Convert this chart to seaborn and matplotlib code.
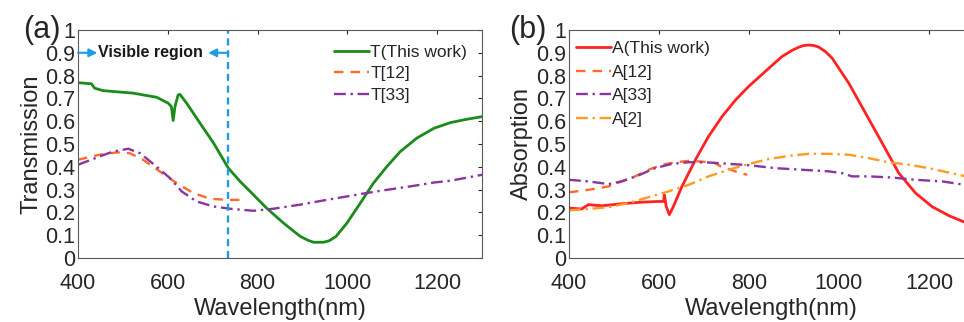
import matplotlib
matplotlib.use('Agg')
import matplotlib.pyplot as plt
import numpy as np
import pandas as pd
import seaborn as sns

# ---- data ----
# (a) Transmission
t_this_x = [400, 430, 437, 456, 523, 575, 601, 608, 612, 616, 623, 627, 642, 672, 702, 735,
            761, 791, 820, 858, 895, 912, 925, 947, 960, 975, 999, 1029, 1058, 1088, 1118, 1155,
            1193, 1230, 1265, 1300]
t_this_y = [0.769, 0.764, 0.745, 0.734, 0.723, 0.705, 0.679, 0.664, 0.603, 0.664, 0.715, 0.718, 0.679,
            0.591, 0.504, 0.394, 0.336, 0.277, 0.219, 0.153, 0.095, 0.078, 0.069, 0.069, 0.076, 0.095,
            0.153, 0.241, 0.328, 0.401, 0.467, 0.526, 0.569, 0.594, 0.608, 0.620]

t12_x = [400, 448, 486, 515, 545, 582, 620, 657, 694, 732, 761]
t12_y = [0.431, 0.453, 0.463, 0.460, 0.431, 0.380, 0.328, 0.285, 0.260, 0.255, 0.255]

t33_x = [400, 448, 478, 512, 538, 575, 605, 631, 664, 702, 739, 791, 835, 895, 954, 999,
         1043, 1088, 1140, 1193, 1230, 1300]
t33_y = [0.409, 0.445, 0.467, 0.479, 0.460, 0.401, 0.350, 0.292, 0.248, 0.226, 0.216, 0.207,
         0.216, 0.234, 0.255, 0.270, 0.285, 0.299, 0.314, 0.331, 0.339, 0.365]

# (b) Absorption
a_this_x = [400, 428, 443, 473, 517, 562, 599, 610, 612, 616, 623, 632, 651, 681, 710, 740, 770,
            799, 836, 873, 895, 911, 922, 933, 944, 955, 970, 985, 1022, 1059, 1096, 1133, 1170,
            1207, 1245, 1300]
a_this_y = [0.219, 0.215, 0.234, 0.229, 0.238, 0.245, 0.248, 0.248, 0.277, 0.226, 0.190, 0.226,
            0.314, 0.431, 0.533, 0.620, 0.693, 0.752, 0.818, 0.883, 0.910, 0.925, 0.932, 0.934,
            0.932, 0.925, 0.905, 0.876, 0.766, 0.635, 0.504, 0.372, 0.285, 0.225, 0.185, 0.140]

a12_x = [400, 443, 488, 517, 547, 577, 607, 636, 666, 695, 725, 740, 755, 781, 796]
a12_y = [0.288, 0.299, 0.314, 0.336, 0.358, 0.387, 0.409, 0.420, 0.426, 0.423, 0.416, 0.398,
         0.390, 0.372, 0.365]

a33_x = [400, 443, 488, 517, 554, 591, 629, 666, 710, 755, 799, 859, 918, 977, 1007, 1029,
         1066, 1118, 1170, 1229, 1300]
a33_y = [0.343, 0.336, 0.324, 0.336, 0.362, 0.394, 0.413, 0.420, 0.419, 0.413, 0.407, 0.394,
         0.387, 0.380, 0.372, 0.358, 0.358, 0.353, 0.343, 0.336, 0.315]

a2_x = [400, 443, 488, 532, 577, 621, 666, 710, 755, 799, 844, 889, 933, 977, 1022, 1066,
        1110, 1155, 1200, 1300]
a2_y = [0.209, 0.215, 0.223, 0.241, 0.267, 0.292, 0.321, 0.358, 0.387, 0.412, 0.434, 0.448,
        0.457, 0.457, 0.453, 0.438, 0.420, 0.409, 0.394, 0.350]

visible_edge = 735
y_ticks = [0, 0.1, 0.2, 0.3, 0.4, 0.5, 0.6, 0.7, 0.8, 0.9, 1]
y_tick_labels = ['0', '0.1', '0.2', '0.3', '0.4', '0.5', '0.6', '0.7', '0.8', '0.9', '1']
x_ticks = [400, 600, 800, 1000, 1200]

sns.set_style('white')
plt.rcParams['font.family'] = ['Liberation Sans', 'DejaVu Sans']

W, H = 964, 322
fig = plt.figure(figsize=(W / 100, H / 100), dpi=100)


def px_axes(x0, y0, x1, y1):
    return fig.add_axes([x0 / W, 1 - y1 / H, (x1 - x0) / W, (y1 - y0) / H])


ax1 = px_axes(78, 30, 482, 258)
ax2 = px_axes(569, 30, 974, 258)

green = '#1a8c1a'
red = '#ff2222'
orange_red = '#ff6a2a'
purple = '#8a34a0'
orange = '#ff9a22'
blue = '#1e9be2'
dashdot = (0, (5, 2, 1, 2))

sns.lineplot(x=t_this_x, y=t_this_y, ax=ax1, color=green, lw=2.0, label='T(This work)')
sns.lineplot(x=t12_x, y=t12_y, ax=ax1, color=orange_red, lw=1.7, linestyle=(0, (4, 3)), label='T[12]')
sns.lineplot(x=t33_x, y=t33_y, ax=ax1, color=purple, lw=1.7, linestyle=dashdot, label='T[33]')
ax1.axvline(visible_edge, color=blue, lw=1.7, linestyle=(0, (3, 2)))
ax1.annotate('', xy=(443, 0.9), xytext=(400, 0.9),
             arrowprops=dict(arrowstyle='-|>', color=blue, lw=1.5, mutation_scale=12,
                             shrinkA=0, shrinkB=0))
ax1.annotate('', xy=(690, 0.9), xytext=(visible_edge, 0.9),
             arrowprops=dict(arrowstyle='-|>', color=blue, lw=1.5, mutation_scale=12,
                             shrinkA=0, shrinkB=0))
ax1.text(444, 0.9, 'Visible region', fontsize=11.5, fontweight='bold', va='center', ha='left',
         color='#1a1a1a')

sns.lineplot(x=a_this_x, y=a_this_y, ax=ax2, color=red, lw=2.0, label='A(This work)')
sns.lineplot(x=a12_x, y=a12_y, ax=ax2, color=orange_red, lw=1.7, linestyle=(0, (4, 3)), label='A[12]')
sns.lineplot(x=a33_x, y=a33_y, ax=ax2, color=purple, lw=1.7, linestyle=dashdot, label='A[33]')
sns.lineplot(x=a2_x, y=a2_y, ax=ax2, color=orange, lw=1.7, linestyle=dashdot, label='A[2]')

for ax, ylab in [(ax1, 'Transmission'), (ax2, 'Absorption')]:
    ax.set_xlim(400, 1300)
    ax.set_ylim(0, 1)
    ax.set_xticks(x_ticks)
    ax.set_xticklabels([str(v) for v in x_ticks])
    ax.set_yticks(y_ticks)
    ax.set_yticklabels(y_tick_labels)
    ax.tick_params(direction='in', length=3, width=0.8, top=True, right=True,
                   labelsize=15.5, colors='#262626', pad=2)
    ax.tick_params(axis='x', pad=11)
    ax.set_xlabel('Wavelength(nm)', fontsize=17, color='#262626', labelpad=3)
    ax.set_ylabel(ylab, fontsize=17, color='#262626', labelpad=2)
    for sp in ax.spines.values():
        sp.set_color('#5a5a5a')
        sp.set_linewidth(0.8)

leg1 = ax1.legend(loc='upper left', bbox_to_anchor=(334 / W, 1 - 45 / H), bbox_transform=fig.transFigure,
                  frameon=False, fontsize=12.5, handlelength=2.0, handletextpad=0.1,
                  labelspacing=0.35, borderpad=0, borderaxespad=0)
leg2 = ax2.legend(loc='upper left', bbox_to_anchor=(576 / W, 1 - 41 / H), bbox_transform=fig.transFigure,
                  frameon=False, fontsize=12.5, handlelength=2.0, handletextpad=0.1,
                  labelspacing=0.48, borderpad=0, borderaxespad=0)
for leg in (leg1, leg2):
    for t in leg.get_texts():
        t.set_color('#262626')

fig.text(23 / W, 1 - 30 / H, '(a)', fontsize=22, va='center', ha='left', color='#262626')
fig.text(509 / W, 1 - 30 / H, '(b)', fontsize=22, va='center', ha='left', color='#262626')

fig.savefig('out.png', dpi=100)
